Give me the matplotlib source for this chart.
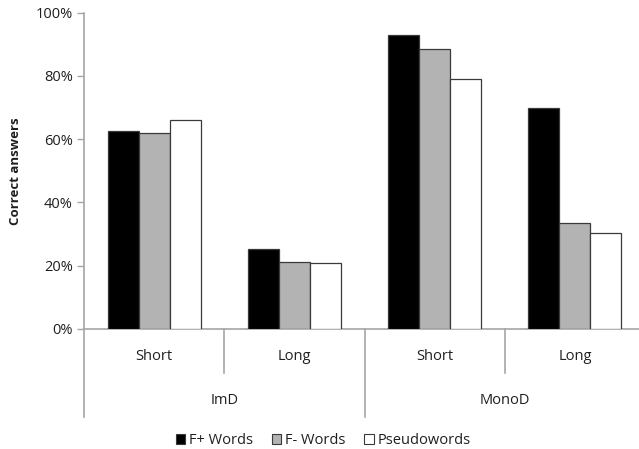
import matplotlib
matplotlib.use("Agg")
import matplotlib.pyplot as plt
import matplotlib.transforms as mtransforms
from matplotlib.patches import Patch
from matplotlib.ticker import PercentFormatter

plt.rcParams['font.family'] = ['Open Sans', 'DejaVu Sans']

conditions = ["Short", "Long", "Short", "Long"]
groups = ["ImD", "MonoD"]
series_names = ["F+ Words", "F- Words", "Pseudowords"]
fplus_words = [62.6, 25.4, 93.0, 69.9]
fminus_words = [61.9, 21.3, 88.5, 33.4]
pseudowords = [65.9, 20.9, 79.1, 30.3]
y_ticks = [0, 20, 40, 60, 80, 100]

series_values = [fplus_words, fminus_words, pseudowords]
fills = ["#000000", "#b3b3b3", "#ffffff"]
axis_gray = "#a6a6a6"
text_color = "#1f1f1f"

W, H = 639, 449
fig = plt.figure(figsize=(W / 100, H / 100), dpi=100)
left, right, top, bottom = 84, 645, 12.5, 329
ax = fig.add_axes([left / W, 1 - bottom / H, (right - left) / W, (bottom - top) / H])

bar_w = 0.221
x = list(range(len(conditions)))
for i, (vals, fc) in enumerate(zip(series_values, fills)):
    offs = (i - 1) * bar_w
    ax.bar([xi + offs for xi in x], vals, width=bar_w, color=fc,
           edgecolor="#3a3a3a", linewidth=0.9, zorder=3)

ax.set_xlim(-0.5, len(conditions) - 0.5)
ax.set_ylim(0, 100)
ax.set_yticks(y_ticks)
ax.yaxis.set_major_formatter(PercentFormatter(decimals=0))
ax.tick_params(axis="y", direction="out", length=5, width=1, color=axis_gray,
               labelsize=10.5, labelcolor=text_color, pad=3)
ax.set_xticks([])
for s in ("top", "right"):
    ax.spines[s].set_visible(False)
for s in ("left", "bottom"):
    ax.spines[s].set_color(axis_gray)
    ax.spines[s].set_linewidth(1.2)

ax.set_ylabel("Correct answers", fontsize=9.5, fontweight="bold",
              color=text_color, labelpad=10)

# hierarchical category axis below the plot
trans = mtransforms.blended_transform_factory(ax.transData, ax.transAxes)
ph = bottom - top
def ay(py):
    return (bottom - py) / ph

for xb in (0.5, 2.5):
    ax.plot([xb, xb], [0, ay(372.7)], color=axis_gray, lw=1.2,
            transform=trans, clip_on=False)
for xb in (-0.5, 1.5, 3.5):
    ax.plot([xb, xb], [0, ay(417.3)], color=axis_gray, lw=1.2,
            transform=trans, clip_on=False)

for xi, lab in zip(x, conditions):
    ax.text(xi, ay(356.7), lab, transform=trans, ha="center", va="center",
            fontsize=10.5, color=text_color)
for gi, lab in enumerate(groups):
    ax.text(gi * 2 + 0.5, ay(401), lab, transform=trans, ha="center",
            va="center", fontsize=10.5, color=text_color)

handles = [Patch(facecolor=fc, edgecolor="#3a3a3a", linewidth=0.8) for fc in fills]
fig.legend(handles, series_names, loc="center", bbox_to_anchor=(323 / W, 1 - 440.7 / H),
           ncol=3, frameon=False, fontsize=10.5, handlelength=0.65, handleheight=0.65,
           handletextpad=0.25, columnspacing=1.3, labelcolor=text_color)

fig.savefig("out.png", dpi=100)
